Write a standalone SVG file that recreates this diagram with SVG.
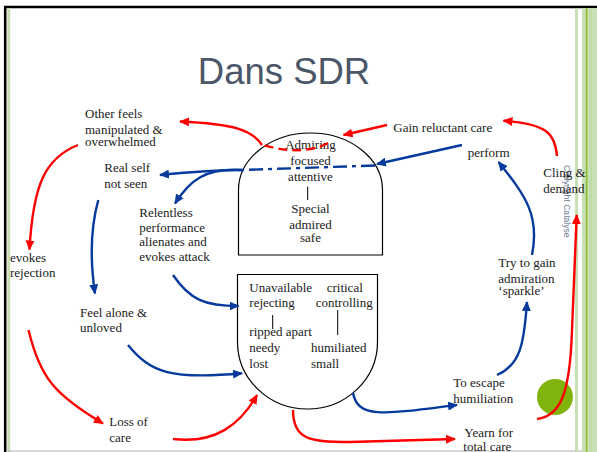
<svg xmlns="http://www.w3.org/2000/svg" width="597" height="452" viewBox="0 0 597 452">
  <style>
    .t { font-family: "Liberation Serif", "Times New Roman", serif; font-size: 13px; fill: #1a1a1a; }
    .tm { text-anchor: middle; }
    .box { fill: #ffffff; stroke: #000000; stroke-width: 1.2; }
    .red { fill: none; stroke: #ff0000; stroke-width: 2.4; }
    .blue { fill: none; stroke: #063a9c; stroke-width: 2.4; }
    .tick { stroke: #000000; stroke-width: 1; }
  </style>
  <defs>
    <marker id="ahRed" markerUnits="userSpaceOnUse" markerWidth="10" markerHeight="9" refX="9" refY="4.5" orient="auto">
      <path d="M0,0 L10,4.5 L0,9 Z" fill="#ff0000"/>
    </marker>
    <marker id="ahBlue" markerUnits="userSpaceOnUse" markerWidth="10" markerHeight="9" refX="9" refY="4.5" orient="auto">
      <path d="M0,0 L10,4.5 L0,9 Z" fill="#063a9c"/>
    </marker>
  </defs>

  <!-- slide frame -->
  <rect x="0" y="0" width="597" height="452" fill="#ffffff"/>
  <line x1="4" y1="7" x2="597" y2="7" stroke="#000000" stroke-width="2.5"/>
  <line x1="5.2" y1="6" x2="5.2" y2="452" stroke="#000000" stroke-width="2.6"/>
  <line x1="8.8" y1="8" x2="8.8" y2="452" stroke="#c6dfb2" stroke-width="2.8"/>
  <line x1="6" y1="451" x2="597" y2="451" stroke="#b0b0b0" stroke-width="1.2"/>
  <rect x="575" y="8.3" width="3" height="444" fill="#c8e0b4"/>
  <rect x="582" y="8.3" width="15" height="444" fill="#c8e0b4"/>
  <rect x="585.8" y="8.3" width="1.6" height="444" fill="#8dbb2e"/>
  <rect x="590.5" y="8.3" width="1" height="444" fill="#b5d59a"/>

  <!-- title -->
  <text x="284" y="84" font-family="'Liberation Sans', Arial, sans-serif" font-size="36.5" fill="#4b5668" text-anchor="middle">Dans SDR</text>

  <!-- vertical credit line -->
  <text transform="translate(563.5,165) rotate(90)" font-family="'Liberation Sans', Arial, sans-serif" font-size="8.6" fill="#6b7b93">Copyright Catalyse</text>

  <!-- accent circle -->
  <circle cx="555" cy="397" r="18" fill="#80b30c"/>

  <!-- upper state -->
  <g id="upper-state">
    <path class="box" d="M238.5,255 V190 A72,57 0 0 1 382.5,190 V255 Z"/>
    <text class="t tm" x="310.5" y="149">Admiring</text>
    <text class="t tm" x="310.5" y="165">focused</text>
    <text class="t tm" x="310.5" y="181">attentive</text>
    <line class="tick" x1="307.7" y1="186.5" x2="307.7" y2="200"/>
    <text class="t tm" x="310.5" y="213">Special</text>
    <text class="t tm" x="310.5" y="229">admired</text>
    <text class="t tm" x="310.5" y="242">safe</text>
  </g>

  <!-- lower state -->
  <g id="lower-state">
    <path class="box" d="M237.5,274.5 H377.5 V342 A70,67 0 0 1 237.5,342 Z"/>
    <text class="t" x="249.3" y="292">Unavailable</text>
    <text class="t" x="326.7" y="292">critical</text>
    <text class="t" x="249.3" y="307">rejecting</text>
    <text class="t" x="315.7" y="307">controlling</text>
    <line class="tick" x1="272.7" y1="315" x2="272.7" y2="329"/>
    <line class="tick" x1="337.7" y1="310" x2="337.7" y2="335"/>
    <text class="t" x="249.3" y="336">ripped apart</text>
    <text class="t" x="249.3" y="352">needy</text>
    <text class="t" x="311" y="352">humiliated</text>
    <text class="t" x="249.3" y="368">lost</text>
    <text class="t" x="311" y="368">small</text>
  </g>

  <!-- labels around the cycle -->
  <g id="other-feels">
    <text class="t" x="85" y="118">Other feels</text>
    <text class="t" x="85" y="134">manipulated &amp;</text>
    <text class="t" x="85" y="146">overwhelmed</text>
  </g>
  <g id="real-self">
    <text class="t" x="104.3" y="172">Real self</text>
    <text class="t" x="104.3" y="188">not seen</text>
  </g>
  <g id="relentless">
    <text class="t" x="139.3" y="217">Relentless</text>
    <text class="t" x="139.3" y="232">performance</text>
    <text class="t" x="139.3" y="246">alienates and</text>
    <text class="t" x="139.3" y="261">evokes attack</text>
  </g>
  <g id="evokes-rejection">
    <text class="t" x="10" y="262">evokes</text>
    <text class="t" x="10" y="277">rejection</text>
  </g>
  <g id="feel-alone">
    <text class="t" x="80" y="317">Feel alone &amp;</text>
    <text class="t" x="80" y="332">unloved</text>
  </g>
  <g id="loss-of-care">
    <text class="t" x="109.3" y="426">Loss of</text>
    <text class="t" x="109.3" y="442">care</text>
  </g>
  <g id="gain-care">
    <text class="t" x="393.3" y="132">Gain reluctant care</text>
  </g>
  <g id="perform">
    <text class="t" x="467.7" y="157">perform</text>
  </g>
  <g id="cling">
    <text class="t" x="543.3" y="177">Cling &amp;</text>
    <text class="t" x="543.3" y="193">demand</text>
  </g>
  <g id="try-gain">
    <text class="t" x="498.3" y="267">Try to gain</text>
    <text class="t" x="498.3" y="283">admiration</text>
    <text class="t" x="498.3" y="294.5">‘sparkle’</text>
  </g>
  <g id="escape">
    <text class="t" x="453.3" y="387">To escape</text>
    <text class="t" x="453.3" y="403">humiliation</text>
  </g>
  <g id="yearn">
    <text class="t" x="464.3" y="437">Yearn for</text>
    <text class="t" x="463.3" y="451">total care</text>
  </g>

  <!-- connectors -->
  <g id="connectors">
    <!-- red loop -->
    <path class="red" stroke-dasharray="9 5" d="M328,143 C315,150 295,154 262,145"/>
    <path class="red" marker-end="url(#ahRed)" d="M262,145 C252,130 235,124 180,121.5"/>
    <path class="red" marker-end="url(#ahRed)" d="M387,125 L343.5,135"/>
    <path class="red" marker-end="url(#ahRed)" d="M557,156 C555,132 545,124 503.5,120.7"/>
    <path class="red" marker-end="url(#ahRed)" d="M78,145 C45,158 33,185 29.5,249.5"/>
    <path class="red" marker-end="url(#ahRed)" d="M28.5,330 C40,378 55,395 103,423.5"/>
    <path class="red" marker-end="url(#ahRed)" d="M173,439 C215,444 240,425 257,395"/>
    <path class="red" marker-end="url(#ahRed)" d="M293,410 C293,440 310,442 350,442 L455,439"/>
    <path class="red" marker-end="url(#ahRed)" d="M537,419 C560,416 570,395 572,330 L576.7,215"/>

    <!-- blue loop -->
    <path class="blue" marker-end="url(#ahBlue)" d="M462,145 L377,164"/>
    <path class="blue" stroke-dasharray="14 5 4 5" d="M375,165.5 L242,170"/>
    <path class="blue" marker-end="url(#ahBlue)" d="M242,170 C210,170 190,172 160,175"/>
    <path class="blue" marker-end="url(#ahBlue)" d="M242,170 C205,168 190,180 175,203.5"/>
    <path class="blue" marker-end="url(#ahBlue)" d="M98.3,200 C90,230 90,260 95,293.5"/>
    <path class="blue" marker-end="url(#ahBlue)" d="M173,275 C190,300 205,306 238.5,306"/>
    <path class="blue" marker-end="url(#ahBlue)" d="M128,345 C150,372 170,380 242,373.3"/>
    <path class="blue" marker-end="url(#ahBlue)" d="M353,393 C358,418 380,415 457,405"/>
    <path class="blue" marker-end="url(#ahBlue)" d="M497,375 C520,365 524,345 527,302"/>
    <path class="blue" marker-end="url(#ahBlue)" d="M532,255 C540,215 525,195 498.5,162"/>
  </g>
</svg>
